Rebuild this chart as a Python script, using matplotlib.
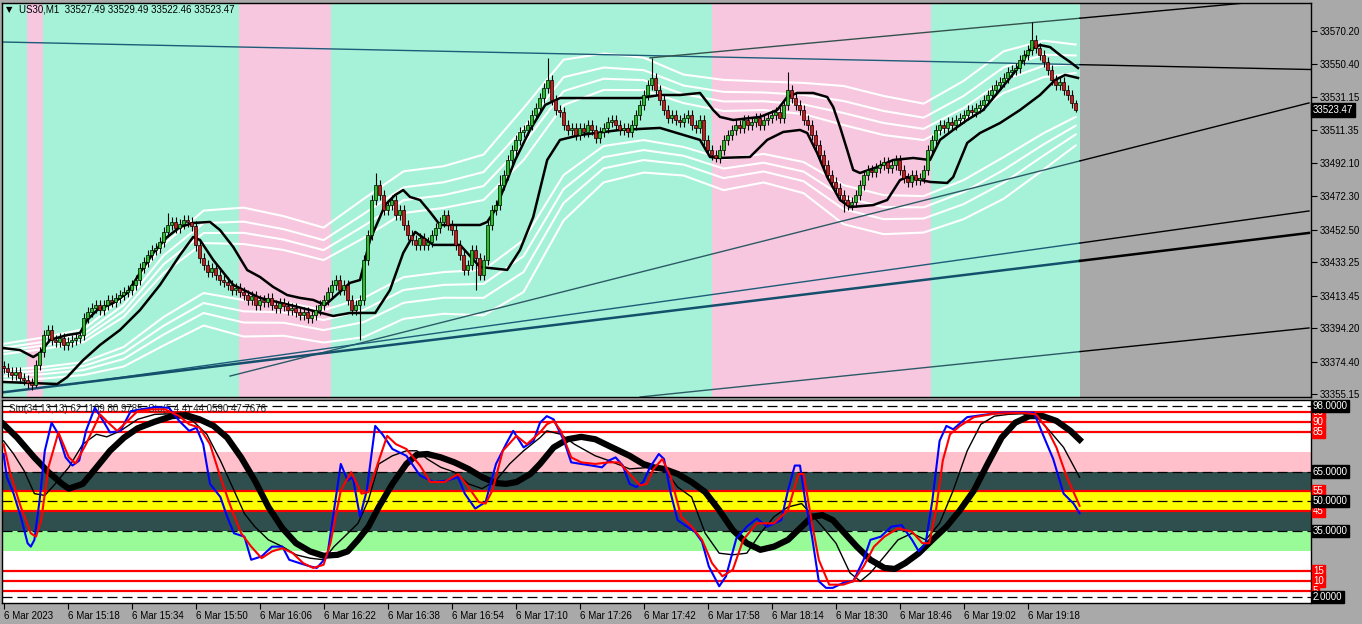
import matplotlib.pyplot as plt
import matplotlib.transforms as mtransforms

plt.rcParams['font.family'] = ['Liberation Sans', 'DejaVu Sans']

# ---- price data (1 bar = 1 minute, bar 0 = 15:02) ----
closes = [
    33370.6, 33368.2, 33366.4, 33368.2, 33364.7, 33363.5, 33361.7, 33360.5, 33372.4, 33380.1,
    33390.1, 33393.1, 33387.2, 33386.0, 33388.4, 33384.2, 33386.0, 33387.2, 33388.4, 33390.1,
    33400.2, 33403.8, 33406.1, 33407.9, 33404.9, 33407.9, 33410.9, 33409.7, 33412.1, 33413.8,
    33415.6, 33416.8, 33419.8, 33422.7, 33429.8, 33433.4, 33437.5, 33440.5, 33441.7, 33445.2,
    33451.2, 33455.3, 33457.1, 33453.5, 33455.9, 33458.3, 33457.1, 33454.7, 33443.5, 33435.8,
    33431.6, 33427.5, 33429.8, 33425.7, 33422.7, 33421.5, 33419.8, 33416.8, 33418.0, 33415.6,
    33413.8, 33410.9, 33413.3, 33407.9, 33410.9, 33409.7, 33412.1, 33407.9, 33406.1, 33409.1,
    33407.3, 33404.9, 33406.1, 33403.8, 33402.0, 33403.8, 33400.2, 33402.0, 33404.9, 33407.9,
    33410.9, 33415.6, 33419.8, 33422.7, 33416.8, 33419.8, 33410.9, 33404.9, 33407.9, 33410.9,
    33434.6, 33449.4, 33470.1, 33479.0, 33473.1, 33464.2, 33467.2, 33470.1, 33461.2, 33464.2,
    33455.3, 33449.4, 33446.4, 33443.5, 33447.6, 33443.5, 33445.2, 33449.4, 33453.5, 33457.1,
    33461.2, 33455.3, 33452.4, 33443.5, 33437.5, 33428.7, 33431.6, 33440.5, 33435.8, 33425.7,
    33434.6, 33455.3, 33464.2, 33467.2, 33479.0, 33484.9, 33493.8, 33499.7, 33505.7, 33510.4,
    33511.6, 33514.5, 33520.5, 33524.6, 33530.5, 33536.5, 33541.2, 33529.4, 33523.4, 33522.3,
    33514.5, 33511.6, 33512.8, 33508.6, 33512.8, 33510.4, 33514.5, 33511.6, 33506.8, 33510.4,
    33512.8, 33516.3, 33517.5, 33514.5, 33511.6, 33512.8, 33510.4, 33514.5, 33520.5, 33526.4,
    33532.3, 33538.2, 33542.4, 33535.3, 33529.4, 33523.4, 33518.7, 33520.5, 33517.5, 33516.3,
    33518.7, 33520.5, 33514.5, 33512.8, 33517.5, 33505.7, 33499.7, 33496.8, 33495.0, 33499.7,
    33505.7, 33508.6, 33511.6, 33514.5, 33512.8, 33517.5, 33514.5, 33516.3, 33518.7, 33514.5,
    33517.5, 33518.7, 33520.5, 33522.3, 33518.7, 33526.4, 33535.3, 33530.5, 33526.4, 33523.4,
    33517.5, 33514.5, 33508.6, 33502.7, 33496.8, 33490.9, 33484.9, 33480.8, 33477.2, 33473.1,
    33470.1, 33467.2, 33468.9, 33473.1, 33479.0, 33484.9, 33487.9, 33486.7, 33489.1, 33490.9,
    33492.6, 33489.1, 33490.9, 33493.8, 33487.9, 33483.2, 33480.8, 33484.9, 33482.0, 33483.2,
    33487.9, 33499.7, 33505.7, 33511.6, 33514.5, 33512.8, 33516.3, 33514.5, 33517.5, 33518.7,
    33520.5, 33523.4, 33522.3, 33524.6, 33526.4, 33529.4, 33532.3, 33535.3, 33538.2, 33540.0,
    33542.4, 33545.9, 33547.1, 33548.3, 33553.0, 33556.0, 33559.0, 33564.9, 33560.2, 33556.0,
    33551.9, 33547.1, 33541.2, 33538.2, 33540.0, 33535.3, 33532.3, 33527.49, 33523.47,
]
first_open = 33372.0
hi_spikes = {34: 33433.0, 41: 33462.4, 93: 33486.1, 124: 33485.0, 136: 33554.2,
             162: 33554.2, 196: 33545.9, 257: 33575.6, 268: 33529.49}
lo_spikes = {8: 33359.3, 48: 33440.0, 89: 33387.2, 118: 33416.8, 178: 33492.6,
             210: 33463.0, 268: 33522.46}
wick = 2.8

# moving-average style lines on price chart (bar, price)
fast_t = [-0.1, 4.1, 7.4, 9.1, 11.6, 15.9, 19.1, 20.9, 23.4, 27.4, 30.9, 34.1, 37.4, 40.9, 44.1,
          47.4, 51.6, 54.1, 57.4, 60.9, 64.1, 67.4, 70.9, 74.1, 77.4, 80.4, 82.4, 86.6, 89.1,
          91.6, 95.4, 97.9, 99.9, 101.6, 104.1, 106.6, 109.1, 114.1, 119.1, 120.9, 122.9,
          125.4, 127.9, 131.6, 135.4, 139.1, 149.1, 159.1, 164.1, 169.1, 174.1, 177.4, 179.1,
          182.4, 189.1, 193.4, 195.9, 198.4, 202.4, 205.9, 207.4, 209.1, 210.9, 212.4, 214.1,
          218.4, 222.4, 227.4, 231.6, 234.1, 237.4, 240.9, 244.9, 249.1, 251.6, 254.1, 256.6,
          259.1, 261.6, 264.1, 266.6, 268.6]
fast_p = [33382.4, 33381.2, 33377.1, 33379.5, 33387.2, 33390.1, 33391.3, 33399.0, 33404.9,
          33409.1, 33415.0, 33426.9, 33438.7, 33448.2, 33454.1, 33456.5, 33457.1, 33452.3,
          33442.3, 33428.6, 33424.5, 33418.6, 33413.8, 33412.1, 33410.9, 33407.9, 33412.1,
          33421.0, 33422.7, 33446.4, 33467.2, 33473.1, 33476.0, 33471.9, 33470.1, 33463.0,
          33455.3, 33455.3, 33455.3, 33457.1, 33464.2, 33479.0, 33493.8, 33511.6, 33526.4,
          33530.5, 33530.5, 33530.5, 33532.3, 33532.3, 33533.5, 33523.4, 33519.3, 33517.5,
          33519.3, 33523.4, 33531.1, 33533.5, 33533.5, 33531.1, 33525.2, 33513.4, 33499.7,
          33487.9, 33486.1, 33489.6, 33493.8, 33495.0, 33493.8, 33505.7, 33511.6, 33517.5,
          33523.4, 33535.3, 33542.4, 33550.1, 33559.0, 33561.9, 33560.7, 33556.0, 33551.9,
          33548.3]
slow_t = [-0.1, 6.6, 13.4, 15.9, 19.9, 24.1, 29.1, 34.1, 39.1, 44.1, 47.4, 49.1, 52.4, 57.4,
          64.1, 71.6, 76.6, 82.4, 86.6, 92.9, 96.6, 99.9, 102.9, 107.4, 114.1, 119.1, 125.9,
          129.1, 132.4, 135.9, 139.1, 144.1, 154.1, 164.1, 174.1, 176.6, 179.1, 186.6, 190.9,
          194.9, 199.1, 200.9, 203.4, 205.9, 209.1, 211.6, 217.4, 220.9, 224.1, 225.9, 231.6,
          235.9, 237.4, 240.9, 244.1, 249.1, 254.1, 259.1, 262.9, 265.4, 268.6]
slow_p = [33362.3, 33361.7, 33361.1, 33365.2, 33375.3, 33384.2, 33393.1, 33404.9, 33419.8,
          33437.5, 33448.2, 33446.4, 33434.6, 33419.8, 33412.1, 33407.9, 33404.9, 33401.4,
          33403.2, 33403.2, 33416.8, 33438.7, 33451.2, 33443.5, 33443.5, 33430.4, 33428.7,
          33440.5, 33460.0, 33493.8, 33505.7, 33508.6, 33511.6, 33512.8, 33505.7, 33495.6,
          33495.0, 33495.6, 33505.7, 33510.4, 33511.6, 33509.8, 33497.9, 33483.7, 33470.1,
          33465.9, 33467.1, 33470.1, 33481.9, 33483.7, 33480.8, 33480.2, 33483.7, 33503.9,
          33509.8, 33515.7, 33523.4, 33532.3, 33541.2, 33544.2, 33542.4]

# envelope bands (white): centre and unit width
band_t = [0, 10, 20, 30, 40, 50, 60, 70, 80, 90, 100, 110, 120, 130, 140, 150, 160, 170,
          180, 190, 200, 210, 220, 230, 240, 250, 260, 268]
band_mid = [33374.1, 33376.5, 33380.0, 33391.9, 33413.8, 33429.8, 33427.4, 33425.1, 33419.7,
            33429.8, 33443.4, 33446.4, 33449.4, 33470.1, 33505.6, 33518.7, 33520.4, 33514.5,
            33508.6, 33510.4, 33506.8, 33496.7, 33490.8, 33489.0, 33499.7, 33514.5, 33526.3,
            33532.3]
band_w = [4.7, 5.3, 5.9, 8.9, 13.0, 14.8, 16.6, 15.4, 14.8, 17.8, 19.0, 19.0, 20.7, 23.7,
          20.7, 16.6, 14.8, 13.0, 14.2, 13.0, 14.2, 17.8, 17.8, 16.6, 17.8, 19.0, 16.6, 13.0]
band_k = [-2.3, -1.8, -1.4, -1.0, 1.0, 1.4, 1.8, 2.3]

# trend lines: (bar0, price0, bar1, price1)
tl_top = (-0.4, 33563.7, 326.85, 33547.4)
tl_up = (161.6, 33554.3, 326.35, 33590.3)
tl_mid = (56.6, 33365.8, 326.35, 33527.6)
tl_a = (16.6, 33360.8, 326.35, 33463.6)
tl_b = (-0.4, 33356.1, 326.35, 33450.6)
tl_c = (159.1, 33353.4, 326.35, 33394.3)

pink_zones = [(5.9, 9.9), (58.9, 81.85), (177.0, 231.85)]
shift_start = 269.1

price_ticks = [33570.20, 33550.40, 33531.15, 33511.35, 33492.10, 33472.30, 33452.50,
               33433.25, 33413.45, 33394.20, 33374.40, 33355.15]

# ---- stochastic data (bar, value) ----
s34_sig_t = [0, 3.4, 7.7, 11.2, 14.6, 16.3, 19.8, 23.2, 26.6, 30.1, 33.5, 37.8, 42.1, 45.6, 49.0,
             52.5, 55.9, 59.4, 62.8, 66.2, 69.7, 73.1, 76.6, 80.0, 83.5, 86.0, 88.6, 91.2, 93.8,
             97.2, 100.7, 103.3, 105.9, 109.3, 112.7, 116.2, 119.6, 123.1, 125.6, 128.2, 131.7,
             134.1, 137.5, 141.0, 144.4, 147.9, 151.3, 156.5, 159.9, 162.5, 165.1, 168.5, 172.0,
             175.4, 178.9, 182.3, 185.8, 189.2, 192.6, 196.1, 199.5, 202.1, 204.7, 207.3, 209.9,
             213.3, 216.7, 220.2, 222.8, 225.4, 228.8, 232.2, 235.7, 239.1, 242.6, 246.0, 249.5,
             252.9, 256.4, 259.8, 263.2, 266.7, 269.0]
s34_sig_v = [88.7, 82, 72, 64.7, 58.8, 56.4, 58.8, 67, 75.4, 82, 86.7, 90, 92.8, 93.3, 91.2,
             87.9, 82, 72, 60.5, 47.2, 36.5, 29, 24.9, 22.7, 23.2, 24.9, 30.7, 37.3, 47.2, 58.8,
             68.8, 73.4, 73.8, 72.1, 69.6, 66.3, 62.2, 59.2, 58.8, 59.7, 63.8, 68.8, 77.1, 81.2,
             82.4, 81.2, 77.9, 72.9, 68.8, 67.1, 66.3, 63.8, 59.7, 54.7, 45.6, 35.6, 29.0, 25.7,
             27.3, 30.7, 37.3, 42.3, 43.1, 40.6, 34.8, 27.3, 20.7, 16.6, 16.1, 19, 24, 30.7,
             37.3, 45.6, 55.5, 68.8, 82, 89.5, 92.8, 92.8, 90.4, 85.4, 80.98]
s34_main_t = [0, 2.5, 5.1, 7.7, 10.3, 12.9, 16.3, 19.8, 23.2, 25.8, 29.2, 33.5, 37.8, 42.1, 47.3,
              50.8, 54.2, 57.6, 60.2, 62.8, 66.2, 69.7, 73.1, 76.6, 80.0, 82.6, 85.2, 88.6, 91.2,
              93.8, 97.2, 100.7, 103.3, 105.9, 109.3, 112.7, 116.2, 119.6, 123.1, 126.5, 130.0,
              134.1, 135.8, 139.3, 142.7, 147.9, 151.3, 156.5, 161.6, 165.1, 168.5, 172.0, 175.4,
              178.9, 182.3, 185.8, 189.2, 192.6, 196.1, 199.5, 202.1, 204.7, 208.1, 211.6, 214.2,
              216.7, 220.2, 223.6, 227.1, 230.5, 234.0, 237.4, 240.9, 244.3, 247.7, 251.2, 254.6,
              258.1, 261.5, 265.0, 269.0]
s34_main_v = [80.4, 73.8, 65.5, 53.9, 53, 58.8, 67.1, 78.7, 83.7, 82.4, 85.4, 91.2, 93.7, 94,
              90.4, 83.7, 70.5, 55.5, 43.9, 37.3, 30.7, 27.3, 23.2, 21.5, 20.7, 27.3, 32.3, 39,
              50.6, 68.8, 72.9, 75.4, 75.4, 71.3, 67.1, 64.7, 58.8, 56.4, 60.5, 68.8, 75.4, 82,
              85.4, 83.7, 78.7, 72.9, 70.5, 66.3, 67.1, 66.3, 57.2, 52.2, 34, 24, 23.2, 24, 34,
              42.3, 47.2, 48.9, 43.1, 37.3, 29, 14.1, 9.9, 14.1, 22.4, 30.7, 34, 30.7, 39, 55.5,
              75.4, 88.7, 92.8, 93.7, 94, 92.8, 85.4, 77.1, 62.11]
s5_main_t = [0, 0.8, 2.5, 4.3, 6.0, 6.8, 7.7, 9.0, 10.3, 12.0, 13.7, 15.5, 17.2, 18.9, 20.6, 22.8,
             24.9, 26.6, 29.2, 31.8, 34.4, 37.8, 41.3, 43.9, 46.4, 48.2, 49.9, 51.6, 54.2, 55.9,
             57.6, 60.2, 61.9, 64.5, 67.1, 69.7, 71.4, 74.0, 76.6, 78.3, 80.9, 82.6, 84.3, 86.0,
             87.3, 89.1, 90.8, 92.9, 94.7, 97.2, 100.7, 104.1, 107.6, 111.0, 113.6, 115.3, 117.9,
             120.5, 123.1, 125.6, 127.4, 130.0, 132.5, 134.1, 135.8, 137.5, 140.1, 141.9, 144.4,
             147.0, 149.6, 151.3, 153.0, 154.8, 156.5, 158.2, 159.9, 161.6, 163.8, 165.1, 166.8,
             168.5, 170.3, 172.8, 174.6, 176.3, 178.9, 180.6, 183.2, 185.8, 188.3, 190.9, 194.4,
             196.1, 197.8, 199.1, 200.4, 202.1, 203.8, 205.6, 207.3, 209.9, 212.4, 215.0, 216.7,
             219.3, 221.9, 224.5, 227.1, 228.8, 230.5, 232.2, 234.0, 235.7, 237.4, 240.9, 246.0,
             249.5, 254.6, 257.6, 259.8, 262.4, 265.0, 267.5, 269.0]
s5_main_v = [73.8, 62.2, 53.9, 42.3, 29, 27.3, 30.7, 50.6, 75.4, 89.5, 83.7, 72.1, 68, 70.5,
             85.4, 97, 90.4, 84.6, 85.4, 95.3, 96.2, 97.3, 97, 90.4, 85.4, 87, 78.7, 58.8, 52.2,
             42.3, 34, 32.3, 20.7, 22.4, 27.3, 27.3, 20.7, 19, 17.4, 16.6, 22.4, 45.6, 68.8,
             60.5, 62.2, 42.3, 55.5, 87.9, 83.7, 76.3, 72.9, 63, 59.7, 60.5, 62.2, 53.9, 46.4,
             49.7, 68.8, 78.7, 85.4, 77.1, 80.4, 89.5, 92.8, 91.2, 80.4, 69.6, 68.8, 68, 67.1,
             70.5, 72.1, 68, 58.8, 57.2, 59.7, 67.1, 73.8, 71.3, 53.9, 40.6, 38.1, 34.8, 29.8,
             17.4, 7.4, 12.4, 31.5, 37.3, 41.4, 37.3, 40.6, 55.5, 68, 68, 50.6, 32.3, 9.9, 6.6,
             6.6, 9.1, 9.9, 20.7, 30.7, 32.3, 37.3, 38.1, 30.7, 24.9, 29, 50.6, 80.4, 87.9, 86.2,
             92.3, 93.7, 94.5, 94.8, 94.5, 83.7, 71.3, 53.9, 48.9, 44.06]
s5_sig_t = [0, 1.7, 4.3, 6.8, 8.1, 9.4, 11.2, 13.7, 16.3, 18.0, 20.6, 24.1, 26.6, 28.4, 31.0,
            33.5, 37.0, 40.4, 43.9, 46.4, 49.0, 51.6, 54.2, 56.8, 59.4, 61.9, 64.5, 67.1, 69.7,
            72.3, 74.9, 77.4, 80.0, 81.7, 84.3, 86.9, 89.5, 91.2, 93.8, 95.9, 98.1, 100.7, 104.1,
            106.7, 110.2, 113.6, 116.2, 118.8, 120.5, 122.2, 124.8, 128.2, 130.8, 134.1, 135.8,
            137.5, 139.3, 141.9, 144.4, 147.9, 151.3, 153.9, 156.5, 159.1, 160.8, 162.5, 164.7,
            166.8, 169.4, 172.0, 174.6, 177.1, 179.7, 182.3, 184.9, 188.3, 192.6, 196.1, 198.7,
            200.0, 202.1, 203.8, 206.4, 209.9, 212.4, 215.0, 217.6, 220.2, 223.6, 227.1, 229.7,
            231.4, 233.1, 234.8, 236.6, 239.1, 242.6, 247.7, 254.6, 258.1, 260.7, 263.2, 265.8,
            268.4, 269.0]
s5_sig_v = [78.7, 63.8, 47.2, 34, 32.3, 40.6, 67.1, 84.6, 72.1, 69.1, 78.7, 93.7, 88.7, 85.4,
            90.4, 95.3, 96.2, 96.2, 92.8, 88.7, 87, 78.7, 62.2, 47.2, 34, 27.3, 21.5, 24.9, 26.5,
            24, 19, 16.6, 18.2, 29, 55.5, 64.7, 53.9, 54.7, 70.5, 82.9, 78.7, 76.3, 68, 59.7,
            59.7, 63.8, 57.2, 49.7, 48.9, 55.5, 75.4, 82.9, 78.7, 84.6, 88.7, 90.4, 85.4, 72.1,
            69.6, 68.8, 69.6, 69.6, 63.8, 58, 58.8, 66.3, 71.3, 62.2, 42.3, 37.3, 30.7, 19, 12.4,
            15.7, 30.7, 39, 39, 45.6, 63.8, 63.8, 39, 20.7, 8.2, 8.2, 9.9, 17.4, 27.3, 32.3, 36.5,
            34.8, 29, 29, 45.6, 70.5, 83.7, 87.9, 92.3, 94, 94.5, 93.7, 87, 77.1, 62.2, 50.6,
            47.77]

red_levels = [95, 90, 85, 55, 45, 15, 10, 5]
dash_levels = [98, 65, 50, 35, 2]
zones = [(65, 75, '#ffc0cb'), (55, 65, '#2f4f4f'), (45, 55, '#ffff00'),
         (35, 45, '#2f4f4f'), (25, 35, '#98fb98')]

time_ticks = [16 * k for k in range(17)]
time_labels = ['6 Mar 2023', '6 Mar 15:18', '6 Mar 15:34', '6 Mar 15:50', '6 Mar 16:06',
               '6 Mar 16:22', '6 Mar 16:38', '6 Mar 16:54', '6 Mar 17:10', '6 Mar 17:26',
               '6 Mar 17:42', '6 Mar 17:58', '6 Mar 18:14', '6 Mar 18:30', '6 Mar 18:46',
               '6 Mar 19:02', '6 Mar 19:18']

AQUA = '#a6f2d8'
PINK = '#f7c7e0'
GREY = '#a9a9a9'
TEAL = '#1d5c78'

W, H = 1362, 624
fig = plt.figure(figsize=(W / 100, H / 100), dpi=100, facecolor=GREY)
ax = fig.add_axes([2 / W, 1 - 397 / H, 1309 / W, 394 / H])
ax2 = fig.add_axes([2 / W, 1 - 603 / H, 1309 / W, 203 / H])
XMIN, XMAX = -0.4, 326.85

# ---------------- price panel ----------------
ax.set_facecolor(AQUA)
ax.set_xlim(XMIN, XMAX)
ax.set_ylim(33353.4, 33586.8)
for a, b in pink_zones:
    ax.axvspan(a, b, color=PINK, lw=0, zorder=0)
ax.axvspan(shift_start, XMAX + 5, color=GREY, lw=0, zorder=0)

for k in band_k:
    ax.plot(band_t, [m + k * w for m, w in zip(band_mid, band_w)], color='white', lw=1.5, zorder=2)


def trend(line, lw=1.0, color=TEAL):
    i0, p0, i1, p1 = line
    ps = p0 + (p1 - p0) * (shift_start - i0) / (i1 - i0)
    if i0 < shift_start:
        ax.plot([i0, shift_start], [p0, ps], color=color, lw=lw, zorder=2.5)
        ax.plot([shift_start, i1], [ps, p1], color='black', lw=lw, zorder=2.5)
    else:
        ax.plot([i0, i1], [p0, p1], color='black', lw=lw, zorder=2.5)


trend(tl_top)
trend(tl_up, color='#34524c')
trend(tl_mid, color='#2c5a66')
trend(tl_a)
trend(tl_b, lw=1.8, color='#14506c')
trend(tl_c, color='#2c5a66')

ax.plot(fast_t, fast_p, color='black', lw=1.8, zorder=3)
ax.plot(slow_t, slow_p, color='black', lw=1.8, zorder=3)

opens = [first_open] + closes[:-1]
idx = list(range(len(closes)))
for i, o, c in zip(idx, opens, closes):
    top, bot = max(o, c), min(o, c)
    hi = hi_spikes.get(i, top + wick)
    lo = lo_spikes.get(i, bot - wick)
    ax.vlines(i, lo, hi, color='black', lw=0.8, zorder=4)
    ax.bar(i, max(top - bot, 0.5), bottom=bot, width=0.7,
           color='#22c422' if c >= o else '#d01818', edgecolor='black', lw=0.5, zorder=5)

ax.yaxis.tick_right()
ax.set_yticks(price_ticks)
ax.set_yticklabels(['%.2f' % v for v in price_ticks])
ax.tick_params(axis='y', length=4, width=0.8, labelsize=7, pad=2)
ax.set_xticks([])
for s in ax.spines.values():
    s.set_color('black')
    s.set_linewidth(1)

trans = mtransforms.blended_transform_factory(ax.transAxes, ax.transData)
ax.text(1.0015, 33523.47, '33523.47', transform=trans, color='white', fontsize=7,
        va='center', ha='left', bbox=dict(facecolor='black', edgecolor='black', pad=1.2))

fig.text(6 / W, 1 - 10 / H, '\u25bc', fontsize=6, va='center', family=['DejaVu Sans'])
fig.text(19 / W, 1 - 10 / H, 'US30,M1  33527.49 33529.49 33522.46 33523.47',
         fontsize=7, va='center')

# ---------------- stochastic panel ----------------
ax2.set_facecolor('white')
ax2.set_xlim(XMIN, XMAX)
ax2.set_ylim(-1.0, 100.9)
for a, b, col in zones:
    ax2.axhspan(a, b, color=col, lw=0, zorder=0)
for v in dash_levels:
    ax2.axhline(v, color='black', lw=0.9, ls=(0, (8, 4)), zorder=1)
for v in red_levels:
    ax2.axhline(v, color='#ff0000', lw=1.6, zorder=1.2)

ax2.text(7 / 1309, 0.955, 'Sto(34,13,13) 62.1109 80.9785  Sto(5,4,4) 44.0590 47.7676',
         transform=ax2.transAxes, fontsize=7, color='#222222', va='center', zorder=1.5)

ax2.plot(s34_sig_t, s34_sig_v, color='black', lw=4.5, zorder=3)
ax2.plot(s34_main_t, s34_main_v, color='black', lw=1.0, zorder=3.2)
ax2.plot(s5_main_t, s5_main_v, color='#0000ff', lw=1.5, zorder=3.4)
ax2.plot(s5_sig_t, s5_sig_v, color='#ff0000', lw=1.5, zorder=3.6)

ax2.set_xticks(time_ticks)
ax2.set_xticklabels(time_labels, ha='left')
ax2.tick_params(axis='x', length=4, width=0.8, labelsize=7, pad=2)
ax2.set_yticks([])
for s in ax2.spines.values():
    s.set_color('black')
    s.set_linewidth(1)

trans2 = mtransforms.blended_transform_factory(ax2.transAxes, ax2.transData)
for v in red_levels:
    ax2.text(1.0015, v, str(v), transform=trans2, color='white', fontsize=7, va='center',
             ha='left', bbox=dict(facecolor='#ff0000', edgecolor='#ff0000', pad=0.8))
for v in dash_levels:
    ax2.text(1.0015, v, '%.4f' % v, transform=trans2, color='white', fontsize=7, va='center',
             ha='left', bbox=dict(facecolor='black', edgecolor='black', pad=0.8))

fig.savefig('out.png', dpi=100, facecolor=fig.get_facecolor())
